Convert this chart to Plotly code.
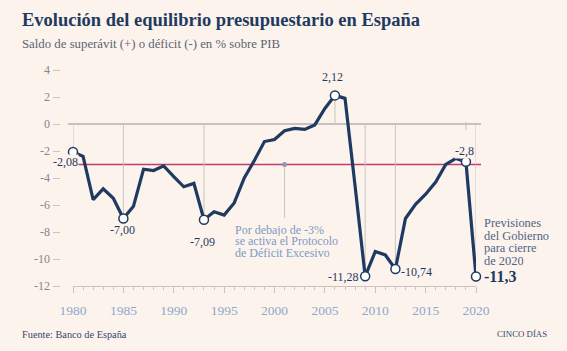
import plotly.graph_objects as go

W, H = 567, 351
years = list(range(1980, 2021))
saldo = [-2.08, -2.4, -5.6, -4.8, -5.5, -7.00, -6.1, -3.35, -3.45, -3.1,
         -3.9, -4.65, -4.4, -7.09, -6.5, -6.75, -5.85, -4.0, -2.7, -1.3,
         -1.15, -0.5, -0.32, -0.4, -0.07, 1.15, 2.12, 1.9, -4.6, -11.28,
         -9.45, -9.7, -10.74, -7.0, -5.95, -5.2, -4.3, -3.0, -2.55, -2.8,
         -11.3]
highlight_years = [1980, 1985, 1993, 2006, 2009, 2012, 2019, 2020]
highlight_labels = ["-2,08", "-7,00", "-7,09", "2,12", "-11,28", "-10,74", "-2,8", "-11,3"]
limite_pde = -3
ytick_vals = [-12, -10, -8, -6, -4, -2, 0, 2, 4]
ytick_text = ["-12", "-10", "-8", "-6", "-4", "-2", "0", "2", "4"]
xtick_vals = [1980, 1985, 1990, 1995, 2000, 2005, 2010, 2015, 2020]

NAVY = "#1f3a60"
GRID = "#cbc3be"
BG = "#fcf3ed"
PINK = "#c23a6f"
SERIF = "Liberation Serif"

val = dict(zip(years, saldo))
hy = [val[y] for y in highlight_years]

fig = go.Figure()
fig.add_trace(go.Scatter(x=years, y=saldo, mode="lines",
                         line=dict(color=NAVY, width=3.2), cliponaxis=False,
                         hoverinfo="skip"))
fig.add_trace(go.Scatter(x=highlight_years, y=hy, mode="markers",
                         marker=dict(size=9, color="white", line=dict(color=NAVY, width=1.5)),
                         cliponaxis=False, hoverinfo="skip"))
fig.add_trace(go.Scatter(x=[2001], y=[limite_pde], mode="markers",
                         marker=dict(size=5, color="#8a9bb5"), cliponaxis=False,
                         hoverinfo="skip"))

shapes = []
x0p, x1p = 68 / W, 481 / W
shapes.append(dict(type="line", xref="paper", yref="y", x0=x0p, x1=x1p, y0=0, y1=0,
                   line=dict(color="#b8b0ab", width=1.5), layer="below"))
shapes.append(dict(type="line", xref="paper", yref="y", x0=x0p, x1=x1p,
                   y0=limite_pde, y1=limite_pde, line=dict(color=PINK, width=1.5), layer="below"))
for yr in highlight_years:
    v = val[yr]
    if yr == 2019:
        y0, y1 = 0.15, -0.45
    else:
        y0, y1 = 0, v
    shapes.append(dict(type="line", xref="x", yref="y", x0=yr, x1=yr, y0=y0, y1=y1,
                       line=dict(color=GRID, width=1), layer="below"))
shapes.append(dict(type="line", xref="x", yref="y", x0=2001, x1=2001, y0=limite_pde, y1=-6.95,
                   line=dict(color=GRID, width=1), layer="below"))

ann = []
offsets = {
    1980: dict(xshift=-8, yshift=-10, xanchor="center"),
    1985: dict(xshift=-1, yshift=-11, xanchor="center"),
    1993: dict(xshift=-1, yshift=-22, xanchor="center"),
    2006: dict(xshift=-2, yshift=18, xanchor="center"),
    2009: dict(xshift=-5, yshift=-1, xanchor="right"),
    2012: dict(xshift=5, yshift=-3, xanchor="left"),
    2019: dict(xshift=-1, yshift=11, xanchor="center"),
}
for yr, lab in zip(highlight_years, highlight_labels):
    if yr == 2020:
        ann.append(dict(x=yr, y=val[yr], text="<b>" + lab + "</b>", showarrow=False,
                        xanchor="left", yanchor="middle", xshift=6, yshift=0,
                        font=dict(family=SERIF, size=16, color=NAVY)))
        continue
    o = offsets[yr]
    ann.append(dict(x=yr, y=val[yr], text=lab, showarrow=False, yanchor="middle",
                    bgcolor=BG if yr in (1980, 2019) else None, borderpad=0,
                    font=dict(family=SERIF, size=12, color=NAVY), **o))

def px_y(py):
    return 1 - py / H

for i, t in enumerate(["Previsiones", "del Gobierno", "para cierre", "de 2020"]):
    ann.append(dict(xref="paper", yref="paper", x=482 / W, y=px_y(223.5 + 12.6 * i), text=t,
                    showarrow=False, xanchor="left", yanchor="middle", height=12.6,
                    font=dict(family=SERIF, size=12.4, color="#4f6485")))
for i, t in enumerate(["Por debajo de -3%", "se activa el Protocolo", "de Déficit Excesivo"]):
    ann.append(dict(xref="paper", yref="paper", x=233 / W, y=px_y(229.5 + 11.7 * i), text=t,
                    showarrow=False, xanchor="left", yanchor="middle", height=11.7,
                    font=dict(family=SERIF, size=12, color="#7d9ac4")))

ann.append(dict(xref="paper", yref="paper", x=20 / W, y=px_y(20), text="<b>Evolución del equilibrio presupuestario en España</b>",
                showarrow=False, xanchor="left", yanchor="middle",
                font=dict(family=SERIF, size=18.5, color=NAVY)))
ann.append(dict(xref="paper", yref="paper", x=20 / W, y=px_y(44), text="Saldo de superávit (+) o déficit (-) en % sobre PIB",
                showarrow=False, xanchor="left", yanchor="middle",
                font=dict(family=SERIF, size=12.8, color="#5d6472")))
ann.append(dict(xref="paper", yref="paper", x=20 / W, y=px_y(334), text="Fuente: Banco de España",
                showarrow=False, xanchor="left", yanchor="middle",
                font=dict(family=SERIF, size=10.3, color="#34486a")))
ann.append(dict(xref="paper", yref="paper", x=549 / W, y=px_y(334), text="CINCO DÍAS",
                showarrow=False, xanchor="right", yanchor="middle",
                font=dict(family=SERIF, size=8.8, color="#34486a")))

fig.update_layout(
    width=W, height=H, margin=dict(l=0, r=0, t=0, b=0, pad=0, autoexpand=False),
    paper_bgcolor=BG, plot_bgcolor=BG, showlegend=False,
    shapes=shapes, annotations=ann,
    xaxis=dict(domain=[73 / W, 476 / W], range=[1980, 2020], showgrid=False, zeroline=False,
               showline=True, linecolor=GRID, linewidth=1, automargin=False,
               tickmode="array", tickvals=xtick_vals, ticks="outside", ticklen=6,
               tickcolor=GRID, tickwidth=1, ticklabelstandoff=6,
               minor=dict(dtick=1, tick0=1980, ticks="outside", ticklen=3, tickcolor=GRID),
               tickfont=dict(family=SERIF, size=13.5, color="#8ea8cb")),
    yaxis=dict(domain=[1 - 286 / H, 1 - 70 / H], range=[-12, 4], anchor="free",
               position=59.5 / W, showgrid=False, zeroline=False, showline=False,
               automargin=False,
               tickmode="array", tickvals=ytick_vals, ticktext=ytick_text,
               ticks="outside", ticklen=7, tickcolor=GRID,
               tickfont=dict(family=SERIF, size=12, color="#85858d")),
)
fig.write_html("out.html")
